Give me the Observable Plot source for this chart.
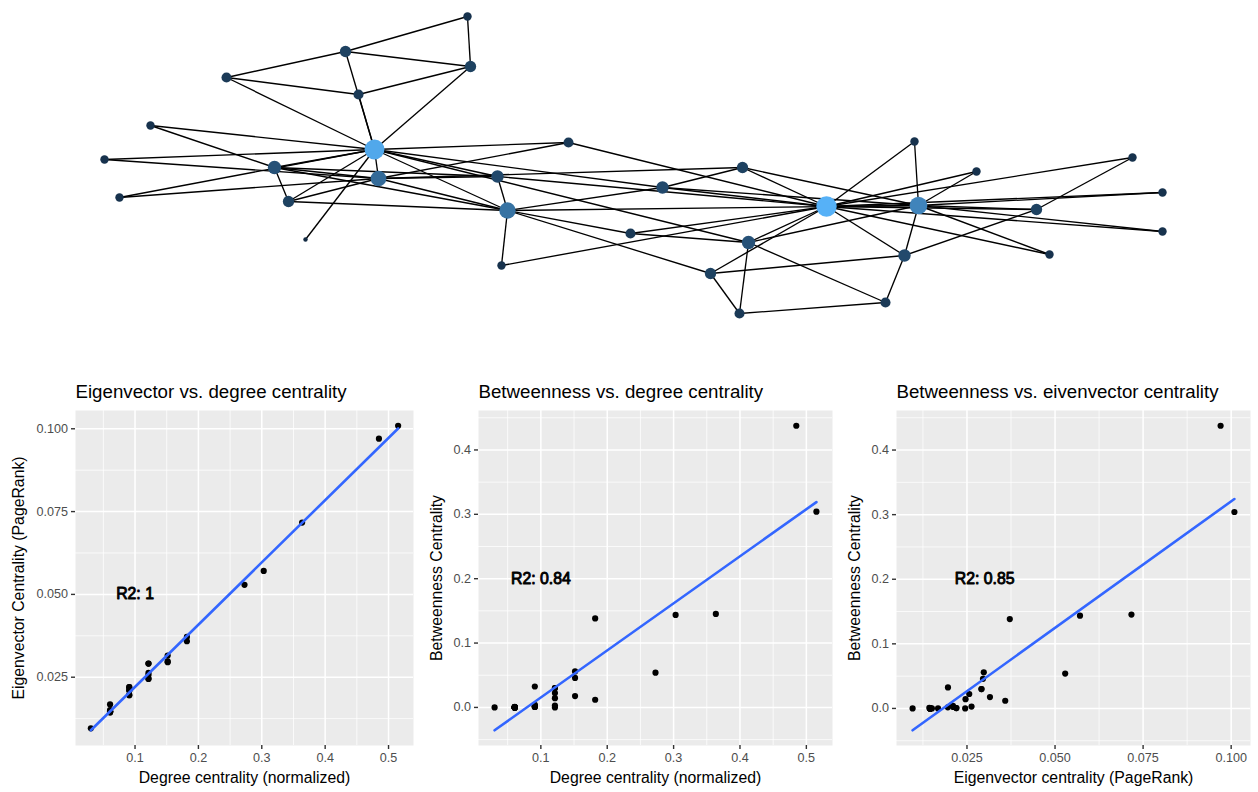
<!DOCTYPE html>
<html>
<head>
<meta charset="utf-8">
<script src="https://cdn.jsdelivr.net/npm/d3@7"></script>
<script src="https://cdn.jsdelivr.net/npm/@observablehq/plot@0.6"></script>
<style>
  body { margin: 0; background: #ffffff; font-family: "Liberation Sans", Arial, sans-serif; }
  #root { position: relative; width: 1258px; height: 792px; overflow: hidden; background: #ffffff; }
  .pane { position: absolute; }
</style>
</head>
<body>
<div id="root">
  <div class="pane" id="net" style="left:0;top:0"></div>
  <div class="pane" id="p1" style="left:0;top:360px"></div>
  <div class="pane" id="p2" style="left:419px;top:360px"></div>
  <div class="pane" id="p3" style="left:838px;top:360px"></div>
</div>
<script>
// ---- Zachary karate club: node ids 1..34 ----
const nodeIds = d3.range(1, 35);
// layout coordinates
const layoutX = [374,378,507,274,358,345,470,288,662,501,226,305,150,497,914,976,467,104,1162,568,1162,119,1049,904,739,885,1132,710,630,1036,742,748,918,826];
const layoutY = [149,178,210,167,94,51,66,201,187,265,77,239,125,176,141,171,16,159,192,142,231,197,254,255,313,302,157,273,233,209,167,242,205,206];
const degree = [16,9,10,6,3,4,4,4,5,2,3,1,2,5,2,2,2,2,2,3,2,2,2,5,3,3,2,4,3,4,4,6,12,17];
const pagerank = [0.09700,0.05288,0.05708,0.03586,0.02198,0.02911,0.02911,0.02449,0.02977,0.01431,0.02198,0.00956,0.01465,0.02954,0.01454,0.01454,0.01679,0.01456,0.01454,0.01960,0.01454,0.01456,0.01454,0.03152,0.02108,0.02101,0.01504,0.02564,0.01957,0.02629,0.02459,0.03716,0.07169,0.10092];
const betweenness = [0.43764,0.05394,0.14366,0.01191,0.00063,0.02999,0.02999,0.0,0.05593,0.00085,0.00063,0.0,0.0,0.04586,0.0,0.0,0.0,0.0,0.0,0.03248,0.0,0.0,0.0,0.01761,0.00221,0.00384,0.0,0.02233,0.00179,0.00292,0.01441,0.13828,0.14525,0.30407];
const edges = [
  [1,2],[1,3],[1,4],[1,5],[1,6],[1,7],[1,8],[1,9],[1,11],[1,12],[1,13],[1,14],[1,18],[1,20],[1,22],[1,32],
  [2,3],[2,4],[2,8],[2,14],[2,18],[2,20],[2,22],[2,31],
  [3,4],[3,8],[3,9],[3,10],[3,14],[3,28],[3,29],[3,33],
  [4,8],[4,13],[4,14],[5,7],[5,11],[6,7],[6,11],[6,17],[7,17],
  [9,31],[9,33],[9,34],[10,34],[14,34],[15,33],[15,34],[16,33],[16,34],
  [19,33],[19,34],[20,34],[21,33],[21,34],[23,33],[23,34],
  [24,26],[24,28],[24,30],[24,33],[24,34],[25,26],[25,28],[25,32],[26,32],
  [27,30],[27,34],[28,34],[29,32],[29,34],[30,33],[30,34],[31,33],[31,34],
  [32,33],[32,34],[33,34]
];
const nMinusOne = 33;

// ---- scatter panel texts and ticks ----
const titles = ["Eigenvector vs. degree centrality", "Betweenness vs. degree centrality", "Betweenness vs. eivenvector centrality"];
const xLabels = ["Degree centrality (normalized)", "Degree centrality (normalized)", "Eigenvector centrality (PageRank)"];
const yLabels = ["Eigenvector Centrality (PageRank)", "Betweenness Centrality", "Betweenness Centrality"];
const r2Labels = ["R2: 1", "R2: 0.84", "R2: 0.85"];
const r2X = [0.1, 0.1, 0.03];
const r2Y = [0.05, 0.2, 0.2];
const degTicks = [0.1, 0.2, 0.3, 0.4, 0.5];
const degMinor = [0.05, 0.15, 0.25, 0.35, 0.45];
const prTicks = [0.025, 0.05, 0.075, 0.1];
const prMinor = [0.0125, 0.0375, 0.0625, 0.0875];
const btTicks = [0.0, 0.1, 0.2, 0.3, 0.4];
const btMinor = [-0.05, 0.05, 0.15, 0.25, 0.35, 0.45];

const FONT = '"Liberation Sans", Arial, Helvetica, sans-serif';

// ---- network ----
const nodes = nodeIds.map((id, i) => ({id, lx: layoutX[i], ly: layoutY[i], degree: degree[i], pagerank: pagerank[i]}));
const links = edges.map(([a, b]) => ({s: nodes[a - 1], t: nodes[b - 1]}));
const [dMin, dMax] = d3.extent(degree);

const net = Plot.plot({
  width: 1258, height: 360, margin: 0,
  style: {background: "transparent", fontFamily: FONT},
  x: {domain: [0, 1258], range: [0, 1258], axis: null},
  y: {domain: [0, 360], range: [0, 360], axis: null},
  r: {type: "linear", domain: [0, 1], range: [2.2, 10.2]},
  color: {type: "linear", domain: [dMin, dMax], range: ["#132B43", "#56B1F7"], interpolate: "lab"},
  marks: [
    Plot.link(links, {x1: d => d.s.lx, y1: d => d.s.ly, x2: d => d.t.lx, y2: d => d.t.ly, stroke: "black", strokeWidth: 1.35}),
    Plot.dot(nodes, {x: "lx", y: "ly", r: d => Math.sqrt((d.degree - dMin) / (dMax - dMin)), fill: "degree"})
  ]
});
document.getElementById("net").appendChild(net);

// ---- scatter helper ----
function fit(xs, ys) {
  const mx = d3.mean(xs), my = d3.mean(ys);
  const b = d3.sum(xs, (x, i) => (x - mx) * (ys[i] - my)) / d3.sum(xs, x => (x - mx) ** 2);
  return [b, my - b * mx];
}

function scatter(cfg) {
  const {xs, ys, xTicks, xMinor, xFmt, yTicks, yMinor, yFmt, idx, width, marginLeft, marginRight, yLabelDx} = cfg;
  const data = xs.map((x, i) => ({x, y: ys[i]}));
  const [b, a] = fit(xs, ys);
  const [x0, x1] = d3.extent(xs);
  const [y0, y1] = d3.extent(ys.concat([a + b * x0, a + b * x1]));
  const ex = (x1 - x0) * 0.05, ey = (y1 - y0) * 0.05;
  return Plot.plot({
    width, height: 432, marginTop: 50, marginBottom: 47, marginLeft, marginRight,
    style: {fontFamily: FONT, background: "transparent", overflow: "visible"},
    x: {domain: [x0 - ex, x1 + ex], axis: null},
    y: {domain: [y0 - ey, y1 + ey], axis: null},
    marks: [
      Plot.frame({fill: "#EBEBEB"}),
      Plot.gridX(xMinor, {stroke: "white", strokeOpacity: 1, strokeWidth: 0.75}),
      Plot.gridY(yMinor, {stroke: "white", strokeOpacity: 1, strokeWidth: 0.75}),
      Plot.gridX(xTicks, {stroke: "white", strokeOpacity: 1, strokeWidth: 1.5}),
      Plot.gridY(yTicks, {stroke: "white", strokeOpacity: 1, strokeWidth: 1.5}),
      Plot.axisX(xTicks, {tickFormat: d3.format(xFmt), tickSize: 4, tickPadding: 3.5, fontSize: 12.6, fill: "#4D4D4D", stroke: "#333333", strokeWidth: 1.4, label: null}),
      Plot.axisY(yTicks, {tickFormat: d3.format(yFmt), tickSize: 4, tickPadding: 3.5, fontSize: 12.6, fill: "#4D4D4D", stroke: "#333333", strokeWidth: 1.4, label: null}),
      Plot.dot(data, {x: "x", y: "y", r: 3.1, fill: "black"}),
      Plot.linearRegressionY(data, {x: "x", y: "y", stroke: "#3366FF", strokeWidth: 2.6, ci: 0}),
      Plot.text([{label: r2Labels[idx], x: r2X[idx], y: r2Y[idx]}], {x: "x", y: "y", text: "label", fontSize: 15.8, fill: "black", stroke: "black", strokeWidth: 0.9}),
      Plot.text([titles[idx]], {text: d => d, frameAnchor: "top-left", dy: -13, textAnchor: "start", lineAnchor: "bottom", fontSize: 18.7, fill: "black"}),
      Plot.text([xLabels[idx]], {text: d => d, frameAnchor: "bottom", dy: 32, textAnchor: "middle", lineAnchor: "middle", fontSize: 15.8, fill: "black"}),
      Plot.text([yLabels[idx]], {text: d => d, frameAnchor: "left", dx: yLabelDx, rotate: -90, textAnchor: "middle", lineAnchor: "middle", fontSize: 15.8, fill: "black"})
    ]
  });
}

const degCentrality = degree.map(d => d / nMinusOne);

document.getElementById("p1").appendChild(scatter({
  xs: degCentrality, ys: pagerank, xTicks: degTicks, xMinor: degMinor, xFmt: ".1f",
  yTicks: prTicks, yMinor: prMinor, yFmt: ".3f", idx: 0,
  width: 419, marginLeft: 75, marginRight: 6, yLabelDx: -56.3
}));
document.getElementById("p2").appendChild(scatter({
  xs: degCentrality, ys: betweenness, xTicks: degTicks, xMinor: degMinor, xFmt: ".1f",
  yTicks: btTicks, yMinor: btMinor, yFmt: ".1f", idx: 1,
  width: 419, marginLeft: 59, marginRight: 6, yLabelDx: -41.7
}));
document.getElementById("p3").appendChild(scatter({
  xs: pagerank, ys: betweenness, xTicks: prTicks, xMinor: prMinor, xFmt: ".3f",
  yTicks: btTicks, yMinor: btMinor, yFmt: ".1f", idx: 2,
  width: 420, marginLeft: 58, marginRight: 8, yLabelDx: -41.5
}));
</script>
</body>
</html>
